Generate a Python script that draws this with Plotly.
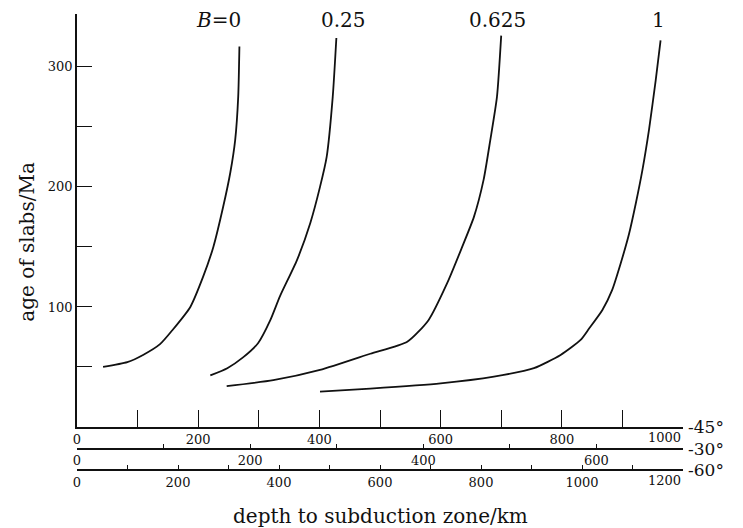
import plotly.graph_objects as go

# Slab age versus depth to subduction zone, one curve per B value
b_labels = ["<i>B</i>=0", "0.25", "0.625", "1"]

depth_b0 = [43, 83, 109, 137, 158, 187, 208, 225, 241, 253, 261, 266, 268]
age_b0 = [50, 54, 60, 69, 81, 100, 125, 150, 183, 212, 239, 275, 317]

depth_b025 = [220, 248, 274, 299, 319, 335, 363, 385, 401, 412, 422, 428]
age_b025 = [43, 49, 58, 70, 89, 109, 139, 170, 200, 225, 275, 324]

depth_b0625 = [247, 324, 401, 484, 545, 580, 611, 634, 655, 671, 682, 693, 700]
age_b0625 = [34, 39, 47.5, 61, 71, 89, 120, 148, 175, 206, 239, 275, 326]

depth_b1 = [401, 484, 600, 688, 754, 798, 831, 845, 867, 883, 897, 911,
            922, 933, 944, 955, 963]
age_b1 = [29.4, 32, 36.4, 42, 49, 60, 72.5, 82, 97.5, 114, 136, 161,
          186, 214, 248, 289, 322]

# label anchor (depth, age) for each curve name
label_depth = [233, 439, 694, 960]
label_age = [339, 339, 339, 339]

# depth scales for the three dip angles
dip_labels = ["45°", "30°", "60°"]
ticks_45 = list(range(0, 1001, 100))
labels_45 = [str(v) if v % 200 == 0 and v < 1000 else "" for v in ticks_45]
ticks_30 = list(range(0, 701, 100))
labels_30 = [str(v) if v % 200 == 0 else "" for v in ticks_30]
ticks_60 = list(range(0, 1201, 100))
labels_60 = [str(v) if v % 200 == 0 and v < 1200 else "" for v in ticks_60]
# end values of the 45° and 60° scales, set flush left of their end tick
end_45 = 1000
end_60 = 1200

age_ticks = [50, 100, 150, 200, 250, 300]
age_labels = ["", "100", "", "200", "", "300"]

FONT = "DejaVu Serif"
INK = "#111111"

fig = go.Figure()
for xs, ys in [(depth_b0, age_b0), (depth_b025, age_b025),
               (depth_b0625, age_b0625), (depth_b1, age_b1)]:
    fig.add_trace(go.Scatter(
        x=xs, y=ys, mode="lines",
        line=dict(color=INK, width=1.8, shape="spline", smoothing=0.6),
        showlegend=False, hoverinfo="skip",
    ))

# empty traces so the extra depth scales are drawn
fig.add_trace(go.Scatter(x=[None], y=[None], xaxis="x2", showlegend=False))
fig.add_trace(go.Scatter(x=[None], y=[None], xaxis="x3", showlegend=False))

for name, d, a in zip(b_labels, label_depth, label_age):
    fig.add_annotation(x=d, y=a, xref="x", yref="y", text=name,
                       showarrow=False, font=dict(family=FONT, size=20, color=INK))

y_dom0 = 0.0943
pos_30 = 0.0471

fig.add_annotation(x=end_45, y=y_dom0, xref="x", yref="paper", text=str(end_45),
                   xanchor="right", yanchor="top", yshift=-1, showarrow=False,
                   font=dict(family=FONT, size=13, color=INK))
fig.add_annotation(x=end_60, y=0.0, xref="x3", yref="paper", text=str(end_60),
                   xanchor="right", yanchor="top", yshift=-1, showarrow=False,
                   font=dict(family=FONT, size=13, color=INK))

for lab, ypos in zip(dip_labels, [y_dom0, pos_30, 0.0]):
    fig.add_annotation(x=1.005, y=ypos, xref="paper", yref="paper",
                       text="-" + lab, xanchor="left", yanchor="middle",
                       showarrow=False, font=dict(family=FONT, size=17, color=INK))

fig.add_annotation(x=-0.083, y=0.50, xref="paper", yref="paper",
                   text="age of slabs/Ma", textangle=-90, showarrow=False,
                   xanchor="center", yanchor="middle",
                   font=dict(family=FONT, size=20, color=INK))
fig.add_annotation(x=0.5, y=-0.10, xref="paper", yref="paper",
                   text="depth to subduction zone/km", showarrow=False,
                   xanchor="center", yanchor="middle",
                   font=dict(family=FONT, size=20, color=INK))

axis_common = dict(showgrid=False, zeroline=False, showline=True,
                   linecolor=INK, linewidth=1.8, tickcolor=INK,
                   tickfont=dict(family=FONT, size=13, color=INK))

fig.update_layout(
    width=743, height=528,
    margin=dict(l=77, r=60, t=14, b=58),
    paper_bgcolor="white", plot_bgcolor="white",
    xaxis=dict(range=[0, 1000], tickvals=ticks_45, ticktext=labels_45,
               ticks="inside", ticklen=17, tickwidth=1.3, anchor="y",
               **axis_common),
    xaxis2=dict(range=[0, 700], tickvals=ticks_30, ticktext=labels_30,
                ticks="inside", ticklen=4, tickwidth=1.2, overlaying="x",
                anchor="free", position=pos_30, side="bottom", **axis_common),
    xaxis3=dict(range=[0, 1200], tickvals=ticks_60, ticktext=labels_60,
                ticks="inside", ticklen=4, tickwidth=1.2, overlaying="x",
                anchor="free", position=0.0, side="bottom", **axis_common),
    yaxis=dict(range=[0, 344], domain=[y_dom0, 1], tickvals=age_ticks,
               ticktext=age_labels, ticks="inside", ticklen=15, tickwidth=1.3,
               **axis_common),
)

fig.write_html("out.html")
